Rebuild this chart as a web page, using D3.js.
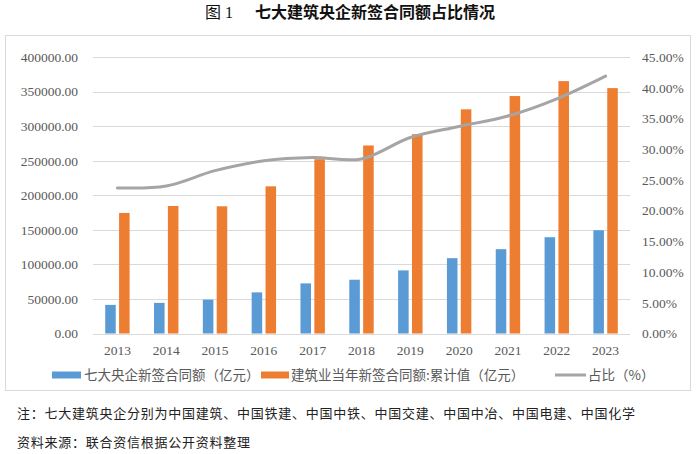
<!DOCTYPE html>
<html>
<head>
<meta charset="utf-8">
<script src="https://cdn.jsdelivr.net/npm/d3@7"></script>
<style>
  html, body { margin: 0; padding: 0; background: #fff; }
  svg { display: block; }
</style>
</head>
<body>
<svg id="chart" width="700" height="454"></svg>
<script>
// ---- data ----
const years = ["2013","2014","2015","2016","2017","2018","2019","2020","2021","2022","2023"];
const centralSOE = [41400, 44300, 49000, 59500, 72500, 77800, 91300, 109000, 122000, 139300, 149400];
const industryTotal = [174400, 184500, 184000, 212900, 252200, 272000, 288300, 324300, 343500, 365100, 355000];
const shareRatio = [0.237, 0.240, 0.265, 0.281, 0.2865, 0.284, 0.319, 0.337, 0.354, 0.382, 0.419];
const leftTicks = [0, 50000, 100000, 150000, 200000, 250000, 300000, 350000, 400000];
const rightTicks = [0, 0.05, 0.10, 0.15, 0.20, 0.25, 0.30, 0.35, 0.40, 0.45];
const seriesNames = ["七大央企新签合同额（亿元）", "建筑业当年新签合同额:累计值（亿元）", "占比（%）"];
const titleText = "七大建筑央企新签合同额占比情况";
const noteText = "注：七大建筑央企分别为中国建筑、中国铁建、中国中铁、中国交建、中国中冶、中国电建、中国化学";
const sourceText = "资料来源：联合资信根据公开资料整理";

(function () {
const colors = { blue: "#5B9BD5", orange: "#ED7D31", gray: "#A5A5A5", grid: "#D9D9D9", text: "#595959" };

const svg = d3.select("#chart");
const pL = 93, pR = 630, pT = 57, pB = 333.5;

// frame
svg.append("rect").attr("x", 5.5).attr("y", 35.5).attr("width", 685).attr("height", 355)
  .attr("fill", "none").attr("stroke", colors.grid).attr("stroke-width", 1);

// title
const t = svg.append("text").attr("x", 350).attr("y", 18).attr("text-anchor", "middle")
  .attr("font-family", "'Noto Sans CJK SC', sans-serif").attr("font-weight", "bold")
  .attr("font-size", 16).attr("fill", "#111");
t.append("tspan").text("图 1").attr("font-family", "'Liberation Serif', 'Noto Sans CJK SC', serif").attr("font-weight", "normal");
t.append("tspan").attr("dx", 22).text(titleText);

// scales
const x0 = d3.scaleBand().domain(years).range([pL, pR]).paddingInner(0.5).paddingOuter(0.25);
const x1 = d3.scaleBand().domain([0, 1]).range([0, x0.bandwidth()]).paddingInner(0.24).paddingOuter(0);
const yL = d3.scaleLinear().domain([0, 400000]).range([pB, pT]);
const yR = d3.scaleLinear().domain([0, 0.45]).range([pB, pT]);

// grid
svg.append("g").selectAll("line").data(leftTicks).join("line")
  .attr("x1", pL).attr("x2", pR)
  .attr("y1", d => Math.round(yL(d)) + 0.5).attr("y2", d => Math.round(yL(d)) + 0.5)
  .attr("stroke", colors.grid).attr("stroke-width", 1);

// left axis
const axL = d3.axisLeft(yL).tickValues(leftTicks).tickFormat(d3.format(".2f")).tickSize(0).tickPadding(0);
const gL = svg.append("g").attr("transform", "translate(78,0)").call(axL);
gL.select(".domain").remove();
gL.selectAll("text").attr("font-family", "'Liberation Serif', serif").attr("font-size", 13.5).attr("fill", colors.text);

// right axis
const axR = d3.axisRight(yR).tickValues(rightTicks).tickFormat(d3.format(".2%")).tickSize(0).tickPadding(0);
const gR = svg.append("g").attr("transform", "translate(642,0)").call(axR);
gR.select(".domain").remove();
gR.selectAll("text").attr("font-family", "'Liberation Serif', serif").attr("font-size", 13.5).attr("fill", colors.text);

// bottom axis
const axB = d3.axisBottom(x0).tickSize(0).tickPadding(0);
const gB = svg.append("g").attr("transform", `translate(0,${pB + 12})`).call(axB);
gB.select(".domain").remove();
gB.selectAll("text").attr("font-family", "'Liberation Serif', serif").attr("font-size", 13.5).attr("fill", colors.text);

// bars
const groups = svg.append("g").selectAll("g").data(years).join("g")
  .attr("transform", d => `translate(${x0(d)},0)`);
groups.append("rect")
  .attr("x", x1(0)).attr("width", x1.bandwidth())
  .attr("y", (d, i) => yL(centralSOE[i])).attr("height", (d, i) => pB - yL(centralSOE[i]))
  .attr("fill", colors.blue);
groups.append("rect")
  .attr("x", x1(1)).attr("width", x1.bandwidth())
  .attr("y", (d, i) => yL(industryTotal[i])).attr("height", (d, i) => pB - yL(industryTotal[i]))
  .attr("fill", colors.orange);

// line
const line = d3.line()
  .x((d, i) => x0(years[i]) + x0.bandwidth() / 2)
  .y(d => yR(d))
  .curve(d3.curveCatmullRom.alpha(0.5));
svg.append("path").datum(shareRatio).attr("d", line)
  .attr("fill", "none").attr("stroke", colors.gray).attr("stroke-width", 3)
  .attr("stroke-linecap", "round").attr("stroke-linejoin", "round");

// legend
const ly = 375;
const lg = svg.append("g");
lg.append("rect").attr("x", 52).attr("y", ly - 3.5).attr("width", 29).attr("height", 7).attr("fill", colors.blue);
lg.append("text").attr("x", 84).attr("y", ly).attr("dy", "0.35em").text(seriesNames[0]);
lg.append("rect").attr("x", 261).attr("y", ly - 3.5).attr("width", 28).attr("height", 7).attr("fill", colors.orange);
lg.append("text").attr("x", 291).attr("y", ly).attr("dy", "0.35em").text(seriesNames[1]);
lg.append("line").attr("x1", 555).attr("x2", 586).attr("y1", ly).attr("y2", ly)
  .attr("stroke", colors.gray).attr("stroke-width", 3);
lg.append("text").attr("x", 588).attr("y", ly).attr("dy", "0.35em").text(seriesNames[2]);
lg.selectAll("text").attr("font-family", "'Noto Sans CJK SC', sans-serif").attr("font-size", 13.5)
  .attr("fill", colors.text);

// notes
svg.append("text").attr("x", 17).attr("y", 413).attr("dy", "0.35em").text(noteText)
  .attr("font-family", "'Noto Sans CJK SC', sans-serif").attr("font-size", 13)
  .attr("letter-spacing", 0.75).attr("fill", "#222");
svg.append("text").attr("x", 17).attr("y", 442).attr("dy", "0.35em").text(sourceText)
  .attr("font-family", "'Noto Sans CJK SC', sans-serif").attr("font-size", 13)
  .attr("letter-spacing", 0.75).attr("fill", "#222");
})();
</script>
</body>
</html>
